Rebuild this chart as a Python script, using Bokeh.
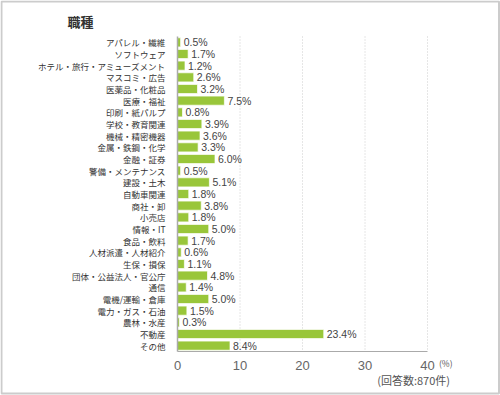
from bokeh.plotting import figure
from bokeh.models import Range1d, FixedTicker, Label, ColumnDataSource
from bokeh.core.properties import value
from bokeh.embed import file_html
from bokeh.resources import INLINE

categories = [
    "アパレル・繊維", "ソフトウェア", "ホテル・旅行・アミューズメント", "マスコミ・広告",
    "医薬品・化粧品", "医療・福祉", "印刷・紙パルプ", "学校・教育関連", "機械・精密機器",
    "金属・鉄鋼・化学", "金融・証券", "警備・メンテナンス", "建設・土木", "自動車関連",
    "商社・卸", "小売店", "情報・IT", "食品・飲料", "人材派遣・人材紹介", "生保・損保",
    "団体・公益法人・官公庁", "通信", "電機/運輸・倉庫", "電力・ガス・石油", "農林・水産",
    "不動産", "その他",
]
values = [0.5, 1.7, 1.2, 2.6, 3.2, 7.5, 0.8, 3.9, 3.6, 3.3, 6.0, 0.5, 5.1, 1.8,
          3.8, 1.8, 5.0, 1.7, 0.6, 1.1, 4.8, 1.4, 5.0, 1.5, 0.3, 23.4, 8.4]
x_ticks = [0, 10, 20, 30, 40]
title_text = "職種"
unit_text = "(%)"
note_text = "(回答数:870件)"

n = len(categories)
pos = list(range(n))
src = ColumnDataSource(dict(
    y=pos, v=values, lab=[f"{v:.1f}%" for v in values],
))

# Canvas px: plot area x 177..427 (0..40), rows from y 36 to 351 (27 rows).
# The frame covers the whole canvas and axes are fixed at the data edges so
# that texts outside the bar area stay visible.
W, H = 500, 395
KX = 250 / 40.0          # px per %
KY = 315 / n             # px per row
def xd(px):
    return (px - 177) / KX
def yd(py):
    return -0.5 + (py - 36) / KY

p = figure(width=W, height=H, output_backend="svg", toolbar_location=None,
           x_range=Range1d(xd(0), xd(W)), y_range=Range1d(yd(H), yd(0)),
           min_border=0)
p.title.visible = False
p.outline_line_color = None
p.background_fill_color = "white"
p.border_fill_color = "white"
p.xgrid.visible = False
p.ygrid.visible = False

# dotted grid lines within the bar area
p.segment(x0=x_ticks[1:], x1=x_ticks[1:], y0=[-0.5] * 4, y1=[n - 0.5] * 4,
          line_color="#cccccc", line_dash="1 2", line_width=1)

p.hbar(y="y", right="v", left=0, height=0.78, source=src,
       fill_color="#99c63a", line_color="#ffffff", line_alpha=0.7, line_width=1)
p.text(x="v", y="y", text="lab", source=src, x_offset=3,
       text_baseline="middle", text_align="left",
       text_font=value("Liberation Sans"), text_font_size="10.5px",
       text_color="#444444")

# axes fixed at the edges of the bar area
xa = p.xaxis[0]
xa.fixed_location = n - 0.5
xa.bounds = (0, 40)
xa.ticker = FixedTicker(ticks=x_ticks)
xa.major_tick_line_color = None
xa.minor_tick_line_color = None
xa.axis_line_color = "#aaaaaa"
xa.major_label_text_font = "Liberation Sans"
xa.major_label_text_font_size = "13px"
xa.major_label_text_color = "#666666"
xa.major_label_standoff = 3

ya = p.yaxis[0]
ya.fixed_location = 0
ya.bounds = (-0.5, n - 0.5)
ya.ticker = FixedTicker(ticks=pos)
ya.major_label_overrides = {i: c for i, c in zip(pos, categories)}
ya.major_tick_line_color = None
ya.minor_tick_line_color = None
ya.axis_line_color = "#aaaaaa"
ya.axis_line_width = 1.5
ya.major_label_text_font = "Noto Sans CJK JP"
ya.major_label_text_font_size = "8.5px"
ya.major_label_text_color = "#333333"
ya.major_label_standoff = 6

p.add_layout(Label(x=xd(67), y=yd(21), text=title_text,
                   text_font="Noto Sans CJK JP",
                   text_font_size="13px", text_font_style="bold", text_color="#333333",
                   text_baseline="middle", text_align="left"))
p.add_layout(Label(x=xd(452), y=yd(362), text=unit_text,
                   text_font="Noto Sans CJK JP",
                   text_font_size="8.5px", text_color="#555555",
                   text_baseline="middle", text_align="right"))
p.add_layout(Label(x=xd(449.5), y=yd(379), text=note_text,
                   text_font="Noto Sans CJK JP",
                   text_font_size="11px", text_color="#555555",
                   text_baseline="middle", text_align="right"))

# outer light-grey frame of the chart box
p.quad(left=[xd(1)], right=[xd(498.5)], top=[yd(1)], bottom=[yd(393)],
       fill_color=None, line_color="#cccccc", line_width=2)

open("out.html", "w").write(file_html(p, INLINE))
